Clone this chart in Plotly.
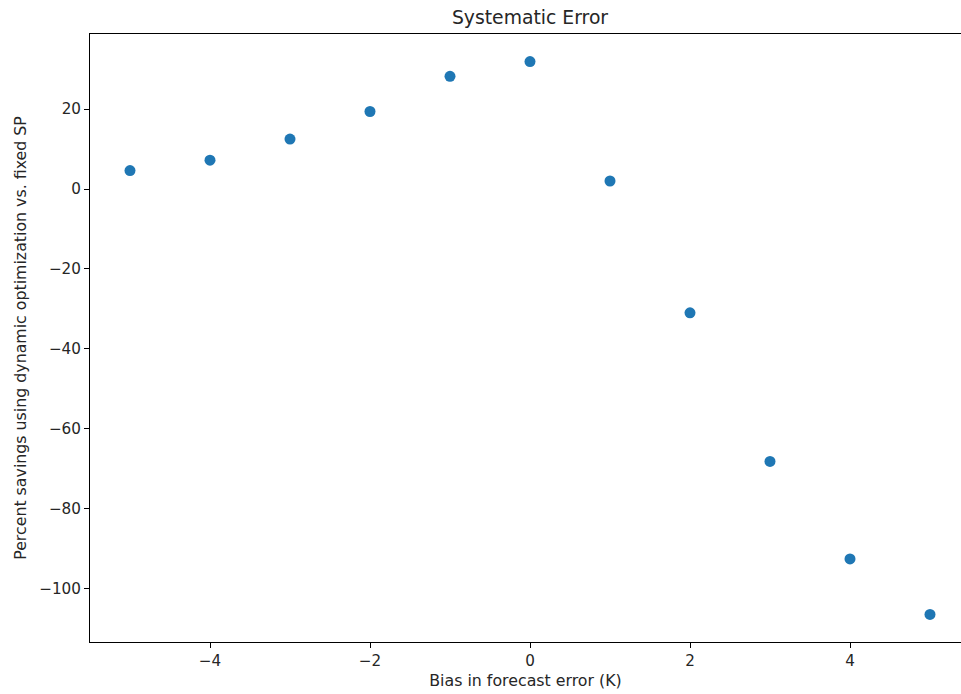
import plotly.graph_objects as go

bias = [-5, -4, -3, -2, -1, 0, 1, 2, 3, 4, 5]
savings = [4.6, 7.2, 12.5, 19.4, 28.2, 31.9, 2.0, -31.0, -68.2, -92.6, -106.5]

x_ticks = [-4, -2, 0, 2, 4]
x_labels = ["\u22124", "\u22122", "0", "2", "4"]
y_ticks = [20, 0, -20, -40, -60, -80, -100]
y_labels = ["20", "0", "\u221220", "\u221240", "\u221260", "\u221280", "\u2212100"]

font = "DejaVu Sans"
txt = "#262626"
fs = 15.2
lfs = 15.8

fig = go.Figure()
fig.add_trace(go.Scatter(
    x=bias, y=savings, mode="markers",
    marker=dict(color="#1f77b4", size=11, line=dict(width=0)),
    showlegend=False,
))

fig.update_layout(
    width=961, height=694,
    margin=dict(l=90, r=0, t=34, b=52),
    paper_bgcolor="white", plot_bgcolor="white",
    font=dict(family=font, size=fs, color=txt),
    title=dict(text="Systematic Error", x=530 / 961, xanchor="center",
               xref="container", y=1 - 17 / 694, yanchor="middle",
               font=dict(family=font, size=18.8, color=txt)),
)
fig.update_xaxes(
    range=[-5.5, 5.3875], showgrid=False, zeroline=False,
    showline=True, linecolor="black", linewidth=1, mirror=True,
    ticks="outside", ticklen=5, tickwidth=1, tickcolor="black",
    tickvals=x_ticks, ticktext=x_labels,
    tickfont=dict(family=font, size=fs, color=txt),
    title=dict(text="Bias in forecast error (K)", standoff=5,
               font=dict(family=font, size=lfs, color=txt)),
)
fig.update_yaxes(
    range=[-113.4, 38.8], showgrid=False, zeroline=False,
    showline=True, linecolor="black", linewidth=1, mirror=False,
    ticks="outside", ticklen=5, tickwidth=1, tickcolor="black",
    tickvals=y_ticks, ticktext=y_labels,
    tickfont=dict(family=font, size=fs, color=txt),
    title=dict(text="Percent savings using dynamic optimization vs. fixed SP", standoff=8,
               font=dict(family=font, size=lfs, color=txt)),
)

fig.write_html("out.html", config={"displayModeBar": False})
